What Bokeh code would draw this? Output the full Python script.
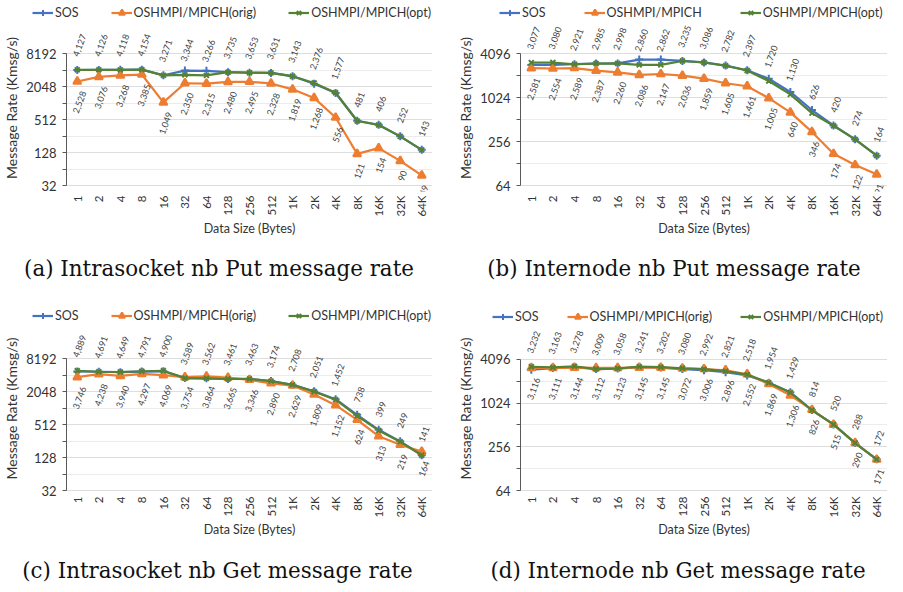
import math
from bokeh.plotting import figure
from bokeh.models import (ColumnDataSource, LabelSet, Label, Legend, LegendItem,
                          FixedTicker, FactorRange, Range1d, BasicTickFormatter)
from bokeh.core.properties import value
from bokeh.layouts import column, row
from bokeh.embed import file_html
from bokeh.resources import INLINE

# ---------------- data ----------------
sizes = ["1", "2", "4", "8", "16", "32", "64", "128", "256", "512",
         "1K", "2K", "4K", "8K", "16K", "32K", "64K"]

# (a) Intrasocket nb Put
a_sos = [4100, 4110, 4120, 4150, 3280, 4000, 3950, 3740, 3660, 3630, 3160, 2300, 1560, 485, 410, 252, 143]
a_orig = [2528, 3076, 3268, 3385, 1049, 2350, 2315, 2480, 2495, 2328, 1819, 1268, 556, 121, 154, 90, 49]
a_opt = [4127, 4126, 4118, 4154, 3271, 3344, 3266, 3735, 3653, 3631, 3143, 2376, 1577, 481, 406, 252, 143]

# (b) Internode nb Put
b_sos = [2850, 2860, 2930, 2990, 3000, 3380, 3380, 3240, 3090, 2800, 2420, 1850, 1220, 690, 425, 274, 164]
b_orig = [2581, 2554, 2589, 2387, 2260, 2086, 2147, 2036, 1859, 1605, 1461, 1005, 640, 346, 174, 122, 91]
b_opt = [3077, 3080, 2921, 2985, 2998, 2860, 2862, 3235, 3086, 2782, 2397, 1720, 1130, 626, 420, 274, 164]

# (c) Intrasocket nb Get
c_sos = [4750, 4700, 4620, 4720, 4780, 3600, 3560, 3470, 3470, 3180, 2720, 2060, 1480, 770, 410, 252, 141]
c_orig = [3746, 4238, 3940, 4297, 4069, 3754, 3864, 3665, 3346, 2890, 2629, 1809, 1152, 624, 313, 219, 164]
c_opt = [4889, 4691, 4649, 4791, 4900, 3589, 3562, 3461, 3463, 3174, 2708, 2051, 1452, 738, 399, 249, 141]

# (d) Internode nb Get
d_sos = [2950, 3100, 3200, 3000, 3050, 3200, 3150, 3000, 2900, 2720, 2450, 1950, 1440, 820, 520, 288, 172]
d_orig = [3116, 3111, 3144, 3112, 3123, 3145, 3145, 3072, 3006, 2896, 2552, 1869, 1306, 826, 515, 290, 171]
d_opt = [3232, 3163, 3278, 3009, 3058, 3241, 3202, 3080, 2992, 2821, 2518, 1954, 1429, 814, 520, 288, 172]

ticks_wide = [32, 128, 512, 2048, 8192]
minor_wide = [64, 256, 1024, 4096]
ticks_narrow = [64, 256, 1024, 4096]
minor_narrow = [128, 512, 2048]

legend_a = ["SOS", "OSHMPI/MPICH(orig)", "OSHMPI/MPICH(opt)"]
legend_b = ["SOS", "OSHMPI/MPICH", "OSHMPI/MPICH(opt)"]

captions = ["(a) Intrasocket nb Put message rate", "(b) Internode nb Put message rate",
            "(c) Intrasocket nb Get message rate", "(d) Internode nb Get message rate"]

BLUE = "#4472C4"
ORANGE = "#ED7D31"
GREEN = "#548235"
TXT = "#404040"

LBL_FS = 9
LBL_ANG = 70
LEG_H = 15

STYLES = [(BLUE, "cross", 8), (ORANGE, "triangle", 8), (GREEN, "x", 7)]


def lbl_off(txt, gap):
    L = sum(0.56 * LBL_FS if c.isdigit() else 0.26 * LBL_FS for c in txt)
    h = 0.7 * LBL_FS
    a = math.radians(LBL_ANG)
    return gap + (L * math.sin(a) + h * math.cos(a)) / 2


def blank(W, H):
    p = figure(width=W, height=H, x_range=Range1d(0, 1), y_range=Range1d(0, 1),
               output_backend="svg", toolbar_location=None,
               x_axis_location=None, y_axis_location=None,
               min_border_left=0, min_border_right=0, min_border_top=0, min_border_bottom=0)
    p.outline_line_color = None
    p.xgrid.visible = False
    p.ygrid.visible = False
    return p


def make_legend(spec):
    fl, ft, W, H = spec["legfig"]
    p = blank(W, H)
    items = []
    for (col, mk, ms), lab in zip(STYLES, spec["legend"]):
        # legend swatches only: points kept outside the visible range
        lr = p.line(x=[-5, -4], y=[-5, -5], line_color=col, line_width=2.2)
        sr = p.scatter(x=[-5], y=[-5], marker=mk, size=ms, line_color=col, fill_color=col,
                       line_width=2)
        items.append(LegendItem(label=lab, renderers=[lr, sr]))
    lx0, ly = spec["leg"]
    vy = (ft + H) - ly - LEG_H / 2
    leg = Legend(items=items, location=(lx0 - fl + 7, vy),
                 orientation="horizontal", glyph_width=21, glyph_height=LEG_H,
                 label_standoff=2, padding=0, margin=0, spacing=spec["legsp"],
                 border_line_color=None, background_fill_alpha=0,
                 label_text_font="Lato", label_text_font_size="12.5px",
                 label_height=LEG_H, label_text_color="#333333")
    p.add_layout(leg)
    return p


def make_caption(spec):
    fl, ft, W, H = spec["capfig"]
    cx, cy = spec["cap"]
    p = blank(W, H)
    p.add_layout(Label(x=cx - fl, y=(ft + H) - cy, x_units="screen", y_units="screen",
                       text=spec["caption"], text_align="center", text_baseline="middle",
                       text_font="DejaVu Serif", text_font_size="21.4px",
                       text_color="#111111"))
    return p


def make_panel(spec):
    fl, ft, W, H = spec["fig"]
    L, R, T, B = spec["frame"]
    at, ab = spec["axis_px"]
    ymin, ymax = spec["ylim"]
    ppd = (ab - at) / math.log2(ymax / ymin)
    y0 = ymin / 2 ** ((B - ab) / ppd)
    y1 = ymax * 2 ** ((at - T) / ppd)
    p = figure(width=W, height=H, x_range=FactorRange(*sizes),
               y_axis_type="log", y_range=Range1d(y0, y1),
               output_backend="svg", toolbar_location=None,
               min_border_left=L - fl, min_border_right=fl + W - R,
               min_border_top=T - ft, min_border_bottom=ft + H - B)
    p.outline_line_color = None
    p.background_fill_color = "white"
    p.border_fill_color = "white"
    p.xgrid.visible = False
    p.ygrid.grid_line_color = "#dedede"
    p.ygrid.minor_grid_line_color = "#ececec"
    p.ygrid.bounds = (ymin, ymax)
    p.yaxis.bounds = (ymin, ymax)
    p.yaxis.ticker = FixedTicker(ticks=spec["ticks"], minor_ticks=spec["minor"])
    p.yaxis.formatter = BasicTickFormatter(use_scientific=False)
    p.yaxis.axis_line_color = "#595959"
    p.yaxis.major_tick_line_color = "#595959"
    p.yaxis.minor_tick_line_color = "#595959"
    p.yaxis.major_tick_out = 4
    p.yaxis.major_tick_in = 0
    p.yaxis.minor_tick_out = 4
    p.yaxis.minor_tick_in = 0
    p.yaxis.major_label_standoff = 6
    p.yaxis.major_label_text_font = "Lato"
    p.yaxis.major_label_text_font_size = "13px"
    p.yaxis.major_label_text_color = "#333333"
    p.yaxis.axis_label = "Message Rate (Kmsg/s)"
    p.yaxis.axis_label_text_font = "Lato"
    p.yaxis.axis_label_text_font_size = "14px"
    p.yaxis.axis_label_text_font_style = "normal"
    p.yaxis.axis_label_text_color = "#333333"
    p.yaxis.axis_label_standoff = 3

    p.xaxis.major_label_orientation = math.pi / 2
    p.xaxis.axis_line_color = None
    p.xaxis.major_tick_line_color = None
    p.xaxis.major_tick_out = 0
    p.xaxis.major_tick_in = 0
    p.xaxis.major_label_standoff = 4
    p.xaxis.major_label_text_font = "Lato"
    p.xaxis.major_label_text_font_size = "11.5px"
    p.xaxis.major_label_text_color = "#333333"
    p.xaxis.axis_label = "Data Size (Bytes)"
    p.xaxis.axis_label_text_font = "Lato"
    p.xaxis.axis_label_text_font_size = "12.5px"
    p.xaxis.axis_label_text_font_style = "normal"
    p.xaxis.axis_label_text_color = "#333333"
    p.xaxis.axis_label_standoff = 2

    for vals, (col, mk, ms) in zip([spec["sos"], spec["orig"], spec["opt"]], STYLES):
        src = ColumnDataSource(dict(x=sizes, y=vals))
        p.line("x", "y", source=src, line_color=col, line_width=2.2)
        p.scatter("x", "y", source=src, marker=mk, size=ms, line_color=col,
                  fill_color=col, line_width=2)

    top_t = [f"{v:,}" for v in spec["opt"]]
    bot_t = [f"{v:,}" for v in spec["orig"]]
    top_src = ColumnDataSource(dict(x=sizes, y=spec["opt"], t=top_t,
                                    dy=[lbl_off(t, 13) for t in top_t]))
    bot_src = ColumnDataSource(dict(x=sizes, y=spec["orig"], t=bot_t,
                                    dy=[-lbl_off(t, 9) for t in bot_t]))
    for src in (top_src, bot_src):
        p.add_layout(LabelSet(x="x", y="y", text="t", x_offset=2, y_offset="dy", source=src,
                              angle=LBL_ANG, angle_units="deg",
                              text_align="center", text_baseline="middle",
                              text_font=value("Lato"), text_font_size=value(f"{LBL_FS}px"),
                              text_color=TXT))
    return p


specs = [
    dict(legfig=(8, 0, 440, 24), fig=(8, 24, 440, 228), frame=(68, 440, 24, 191),
         capfig=(8, 252, 440, 48), cap=(226.5, 268),
         axis_px=(53, 185), ylim=(32, 8192),
         ticks=ticks_wide, minor=minor_wide, sos=a_sos, orig=a_orig, opt=a_opt,
         legend=legend_a, leg=(33, 12), legsp=32, caption=captions[0]),
    dict(legfig=(448, 0, 447, 24), fig=(448, 24, 447, 228), frame=(528, 895, 24, 191),
         capfig=(448, 252, 447, 48), cap=(681.5, 268),
         axis_px=(53, 185), ylim=(64, 4096),
         ticks=ticks_narrow, minor=minor_narrow, sos=b_sos, orig=b_orig, opt=b_opt,
         legend=legend_b, leg=(500, 12), legsp=38, caption=captions[1]),
    dict(legfig=(8, 300, 440, 24), fig=(8, 324, 440, 228), frame=(68, 440, 324, 492),
         capfig=(8, 552, 440, 32), cap=(225, 570),
         axis_px=(358, 490), ylim=(32, 8192),
         ticks=ticks_wide, minor=minor_wide, sos=c_sos, orig=c_orig, opt=c_opt,
         legend=legend_a, leg=(33, 315), legsp=32, caption=captions[2]),
    dict(legfig=(448, 300, 447, 24), fig=(448, 324, 447, 228), frame=(528, 895, 324, 493),
         capfig=(448, 552, 447, 32), cap=(685.5, 570),
         axis_px=(359, 491), ylim=(64, 4096),
         ticks=ticks_narrow, minor=minor_narrow, sos=d_sos, orig=d_orig, opt=d_opt,
         legend=legend_a, leg=(493, 316), legsp=28, caption=captions[3]),
]

la, lb, lc, ld = [make_legend(s) for s in specs]
pa, pb, pc, pd = [make_panel(s) for s in specs]
ca, cb, cc, cd = [make_caption(s) for s in specs]
layout = column(row(la, lb), row(pa, pb), row(ca, cb),
                row(lc, ld), row(pc, pd), row(cc, cd))

open("out.html", "w").write(file_html(layout, INLINE))
